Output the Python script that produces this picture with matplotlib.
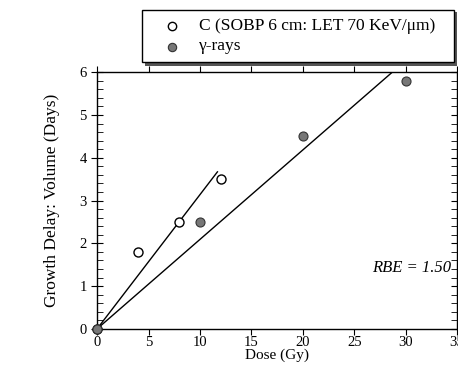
import matplotlib
matplotlib.use("Agg")
import matplotlib.pyplot as plt
from matplotlib.ticker import MultipleLocator
import numpy as np

# data
carbon_dose = [0, 4, 8, 12]
carbon_delay = [0, 1.8, 2.5, 3.5]
gamma_dose = [0, 10, 20, 30]
gamma_delay = [0, 2.5, 4.5, 5.8]

# fitted lines (through origin)
carbon_fit_x = [0, 11.7]
carbon_fit_y = [0, 3.67]
gamma_fit_x = [0, 28.7]
gamma_fit_y = [0, 6.0]

plt.rcParams["font.family"] = ["Liberation Serif", "DejaVu Serif"]

fig = plt.figure(figsize=(4.58, 3.72), dpi=100)
ax = fig.add_axes([0.212, 0.116, 0.786, 0.690])

ax.plot(carbon_fit_x, carbon_fit_y, color="black", lw=1.0, zorder=2)
ax.plot(gamma_fit_x, gamma_fit_y, color="black", lw=1.0, zorder=2)
ax.plot(carbon_dose, carbon_delay, "o", ms=6.5, mfc="white", mec="black",
        mew=1.0, ls="none", zorder=3, clip_on=False)
ax.plot(gamma_dose, gamma_delay, "o", ms=6.5, mfc="#777777", mec="#333333",
        mew=0.8, ls="none", zorder=4, clip_on=False)

ax.set_xlim(0, 35)
ax.set_ylim(0, 6)
ax.xaxis.set_major_locator(MultipleLocator(5))
ax.yaxis.set_major_locator(MultipleLocator(1))
ax.yaxis.set_minor_locator(MultipleLocator(0.2))
ax.tick_params(axis="x", which="major", direction="out", length=4, top=True,
               labelsize=10.5, pad=1.5)
ax.tick_params(axis="y", which="major", direction="inout", length=8, right=True,
               labelsize=10.5)
ax.tick_params(axis="y", which="minor", direction="in", length=4, right=True)
for s in ax.spines.values():
    s.set_linewidth(1.0)

ax.set_xlabel("Dose (Gy)", fontsize=11, labelpad=-1)
ax.set_ylabel("Growth Delay: Volume (Days)", fontsize=12.5, labelpad=14)

ax.text(30.6, 1.43, "RBE = 1.50", fontsize=12, style="italic",
        ha="center", va="center")

# legend box with shadow, drawn in figure coords
shadow = plt.Rectangle((0.316, 0.822), 0.682, 0.146, transform=fig.transFigure,
                       facecolor="#555555", edgecolor="none", zorder=1)
box = plt.Rectangle((0.310, 0.834), 0.682, 0.140, transform=fig.transFigure,
                    facecolor="white", edgecolor="black", lw=1.0, zorder=2)
fig.patches.extend([shadow, box])
fig.lines.append(plt.Line2D([0.376], [0.930], marker="o", ms=6, mfc="white",
                            mec="black", mew=1.0, transform=fig.transFigure,
                            zorder=3))
fig.lines.append(plt.Line2D([0.376], [0.875], marker="o", ms=6, mfc="#777777",
                            mec="#333333", mew=0.8, transform=fig.transFigure,
                            zorder=3))
fig.text(0.434, 0.930, "C (SOBP 6 cm: LET 70 KeV/\u03bcm)", fontsize=12.5,
         va="center", ha="left", zorder=4)
fig.text(0.434, 0.875, "\u03b3-rays", fontsize=12.5, va="center", ha="left",
         zorder=4)

fig.savefig("out.png", dpi=100)
